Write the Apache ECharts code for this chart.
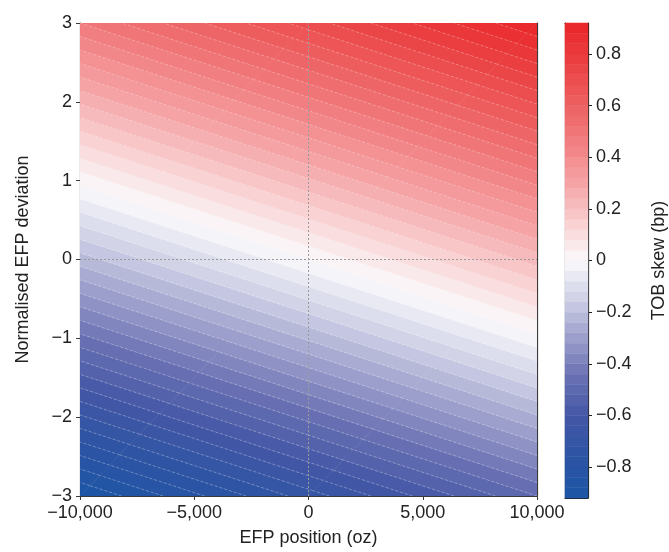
<!DOCTYPE html>
<html><head><meta charset="utf-8">
<script src="https://cdn.jsdelivr.net/npm/echarts@6/dist/echarts.min.js"></script>
<style>html,body{margin:0;padding:0;background:#fff}#c{width:669px;height:552px}</style>
</head><body><div id="c"></div>
<script>
// ---- data ----
const xNodes = [-10000, 0, 10000];          // EFP position (oz)
const yNodes = [-3, 0, 3];                  // normalised EFP deviation
const skewGrid = [                          // TOB skew (bp), rows follow yNodes
  [-0.920, -0.700, -0.480],
  [-0.220,  0.000,  0.220],
  [ 0.480,  0.700,  0.920]
];
const xTicks = [-10000, -5000, 0, 5000, 10000];
const yTicks = [-3, -2, -1, 0, 1, 2, 3];
const cbTicks = [-0.8, -0.6, -0.4, -0.2, 0, 0.2, 0.4, 0.6, 0.8];
const cbRange = [-0.92, 0.92];
const levelStep = 0.04;
const levelCount = 23;                      // levels from -23*step to +23*step
const refLineX = [[0, -3], [0, 3]];
const refLineY = [[-10000, 0], [10000, 0]];
const cmapStops = [
  [-0.92, '#1d55a5'], [-0.75, '#2e54a4'], [-0.6, '#4458a6'], [-0.45, '#6a71b3'],
  [-0.3, '#9c9ecb'], [-0.15, '#cfd0e6'], [0, '#fafafc'], [0.15, '#f9cfd0'],
  [0.3, '#f5a3a5'], [0.5, '#f07577'], [0.7, '#ec4d4e'], [0.92, '#e92527']
];

// ---- helpers ----
const levels = [];
for (let k = -levelCount; k <= levelCount; k++) levels.push(+(k * levelStep).toFixed(4));
function hex(c){return [parseInt(c.slice(1,3),16),parseInt(c.slice(3,5),16),parseInt(c.slice(5,7),16)];}
function cmap(v){
  if (v <= cmapStops[0][0]) return cmapStops[0][1];
  for (let i = 1; i < cmapStops.length; i++) {
    if (v <= cmapStops[i][0]) {
      const a = cmapStops[i-1], b = cmapStops[i];
      const t = (v - a[0]) / (b[0] - a[0]);
      const ca = hex(a[1]), cb = hex(b[1]);
      return 'rgb(' + ca.map((x, j) => Math.round(x + t * (cb[j] - x))).join(',') + ')';
    }
  }
  return cmapStops[cmapStops.length-1][1];
}
function clip(poly, lv, above){
  const out = [];
  for (let i = 0; i < poly.length; i++) {
    const a = poly[i], b = poly[(i+1) % poly.length];
    const ina = above ? a[2] >= lv : a[2] <= lv;
    const inb = above ? b[2] >= lv : b[2] <= lv;
    if (ina) out.push(a);
    if (ina !== inb) {
      const t = (lv - a[2]) / (b[2] - a[2]);
      out.push([a[0] + t*(b[0]-a[0]), a[1] + t*(b[1]-a[1]), lv]);
    }
  }
  return out;
}
const tris = [];
for (let j = 0; j < yNodes.length - 1; j++) for (let i = 0; i < xNodes.length - 1; i++) {
  const p00 = [xNodes[i], yNodes[j], skewGrid[j][i]];
  const p10 = [xNodes[i+1], yNodes[j], skewGrid[j][i+1]];
  const p01 = [xNodes[i], yNodes[j+1], skewGrid[j+1][i]];
  const p11 = [xNodes[i+1], yNodes[j+1], skewGrid[j+1][i+1]];
  tris.push([p00, p10, p11], [p00, p11, p01]);
}
const bands = [];
for (let k = 0; k < levels.length - 1; k++) {
  const lo = levels[k], hi = levels[k+1], col = cmap((lo + hi) / 2);
  tris.forEach(t => {
    let p = clip(t, lo, true);
    if (p.length >= 3) p = clip(p, hi, false);
    if (p.length >= 3) bands.push({pts: p, color: col});
  });
}
const segs = [];
levels.slice(1, -1).forEach(lv => {
  tris.forEach(t => {
    const pts = [];
    for (let i = 0; i < 3; i++) {
      const a = t[i], b = t[(i+1) % 3];
      const da = a[2] - lv, db = b[2] - lv;
      if (Math.abs(da) < 1e-9) pts.push([a[0], a[1]]);
      else if (da * db < 0 && Math.abs(db) > 1e-9) {
        const s = da / (da - db);
        pts.push([a[0] + s*(b[0]-a[0]), a[1] + s*(b[1]-a[1])]);
      }
    }
    if (pts.length === 2) segs.push(pts);
  });
});
const cbBands = [];
for (let k = 0; k < levels.length - 1; k++) {
  const lo = Math.max(levels[k], cbRange[0]), hi = Math.min(levels[k+1], cbRange[1]);
  if (hi > lo) cbBands.push({lo, hi, color: cmap((levels[k] + levels[k+1]) / 2)});
}

const fmtMinus = s => String(s).replace('-', '\u2212');
const FONT = 'Liberation Sans, Arial, sans-serif';
const txt = {color: '#222', fontSize: 18, fontFamily: FONT};
const spine = {show: true, onZero: false, lineStyle: {color: '#3a3a3a', width: 1.2}};
const cbSpine = {show: true, onZero: false, lineStyle: {color: '#222', width: 1.2}};

const chart = echarts.init(document.getElementById('c'), null, {renderer: 'canvas'});
chart.setOption({
  animation: false,
  backgroundColor: '#fff',
  grid: [
    {left: 80, right: 132, top: 23, bottom: 54},
    {left: 565, width: 24, top: 23, bottom: 54}
  ],
  xAxis: [
    {type: 'value', gridIndex: 0, min: -10000, max: 10000, interval: 5000,
     axisLine: spine, axisTick: {show: true, length: 4, lineStyle: {color: '#3a3a3a'}},
     axisLabel: Object.assign({margin: 8, formatter: v => fmtMinus(v.toLocaleString('en-US'))}, txt),
     splitLine: {show: false},
     name: 'EFP position (oz)', nameLocation: 'middle', nameGap: 33, nameTextStyle: txt},
    {type: 'value', gridIndex: 0, position: 'top', min: -10000, max: 10000,
     axisLine: spine, axisTick: {show: false}, axisLabel: {show: false}, splitLine: {show: false}},
    {type: 'value', gridIndex: 1, min: 0, max: 1,
     axisLine: cbSpine, axisTick: {show: false}, axisLabel: {show: false}, splitLine: {show: false}},
    {type: 'value', gridIndex: 1, position: 'top', min: 0, max: 1,
     axisLine: cbSpine, axisTick: {show: false}, axisLabel: {show: false}, splitLine: {show: false}}
  ],
  yAxis: [
    {type: 'value', gridIndex: 0, min: -3, max: 3, interval: 1,
     axisLine: spine, axisTick: {show: true, length: 4, lineStyle: {color: '#3a3a3a'}},
     axisLabel: Object.assign({margin: 8, formatter: v => fmtMinus(v)}, txt),
     splitLine: {show: false},
     name: 'Normalised EFP deviation', nameLocation: 'middle', nameGap: 48, nameRotate: 90, nameTextStyle: txt},
    {type: 'value', gridIndex: 0, position: 'right', min: -3, max: 3,
     axisLine: spine, axisTick: {show: false}, axisLabel: {show: false}, splitLine: {show: false}},
    {type: 'value', gridIndex: 1, position: 'left', min: cbRange[0], max: cbRange[1],
     axisLine: cbSpine, axisTick: {show: false}, axisLabel: {show: false}, splitLine: {show: false}},
    {type: 'value', gridIndex: 1, position: 'right', min: cbRange[0], max: cbRange[1],
     axisLine: cbSpine,
     axisTick: {show: true, length: 4, customValues: cbTicks, lineStyle: {color: '#222'}},
     axisLabel: Object.assign({margin: 8, customValues: cbTicks, formatter: v => fmtMinus(+v.toFixed(1))}, txt),
     splitLine: {show: false},
     name: 'TOB skew (bp)', nameLocation: 'middle', nameGap: 62, nameRotate: 90, nameTextStyle: txt}
  ],
  series: [
    {type: 'custom', xAxisIndex: 0, yAxisIndex: 0, z: 1, clip: true,
     data: bands.map(b => [b.pts[0][0], b.pts[0][1]]),
     renderItem: (params, api) => {
       const b = bands[params.dataIndex];
       return {type: 'polygon', shape: {points: b.pts.map(q => api.coord([q[0], q[1]]))},
               style: {fill: b.color, stroke: b.color, lineWidth: 0.6}};
     }},
    {type: 'custom', xAxisIndex: 0, yAxisIndex: 0, z: 2, clip: true,
     data: segs.map(s => [s[0][0], s[0][1]]),
     renderItem: (params, api) => {
       const s = segs[params.dataIndex];
       return {type: 'polyline', shape: {points: s.map(q => api.coord(q))},
               style: {stroke: 'rgba(255,255,255,0.4)', lineWidth: 0.7, lineDash: [3, 2], fill: null}};
     }},
    {type: 'line', xAxisIndex: 0, yAxisIndex: 0, z: 3, data: refLineX, symbol: 'none',
     lineStyle: {color: '#999', width: 1, type: [2, 2]}},
    {type: 'line', xAxisIndex: 0, yAxisIndex: 0, z: 3, data: refLineY, symbol: 'none',
     lineStyle: {color: '#999', width: 1, type: [2, 2]}},
    {type: 'custom', xAxisIndex: 2, yAxisIndex: 3, z: 1,
     data: cbBands.map(b => [0, b.lo]),
     renderItem: (params, api) => {
       const b = cbBands[params.dataIndex];
       const p1 = api.coord([0, b.hi]), p2 = api.coord([1, b.lo]);
       return {type: 'rect', shape: {x: p1[0], y: p1[1], width: p2[0] - p1[0], height: p2[1] - p1[1]},
               style: {fill: b.color, stroke: b.color, lineWidth: 0.5}};
     }}
  ]
});
</script></body></html>
